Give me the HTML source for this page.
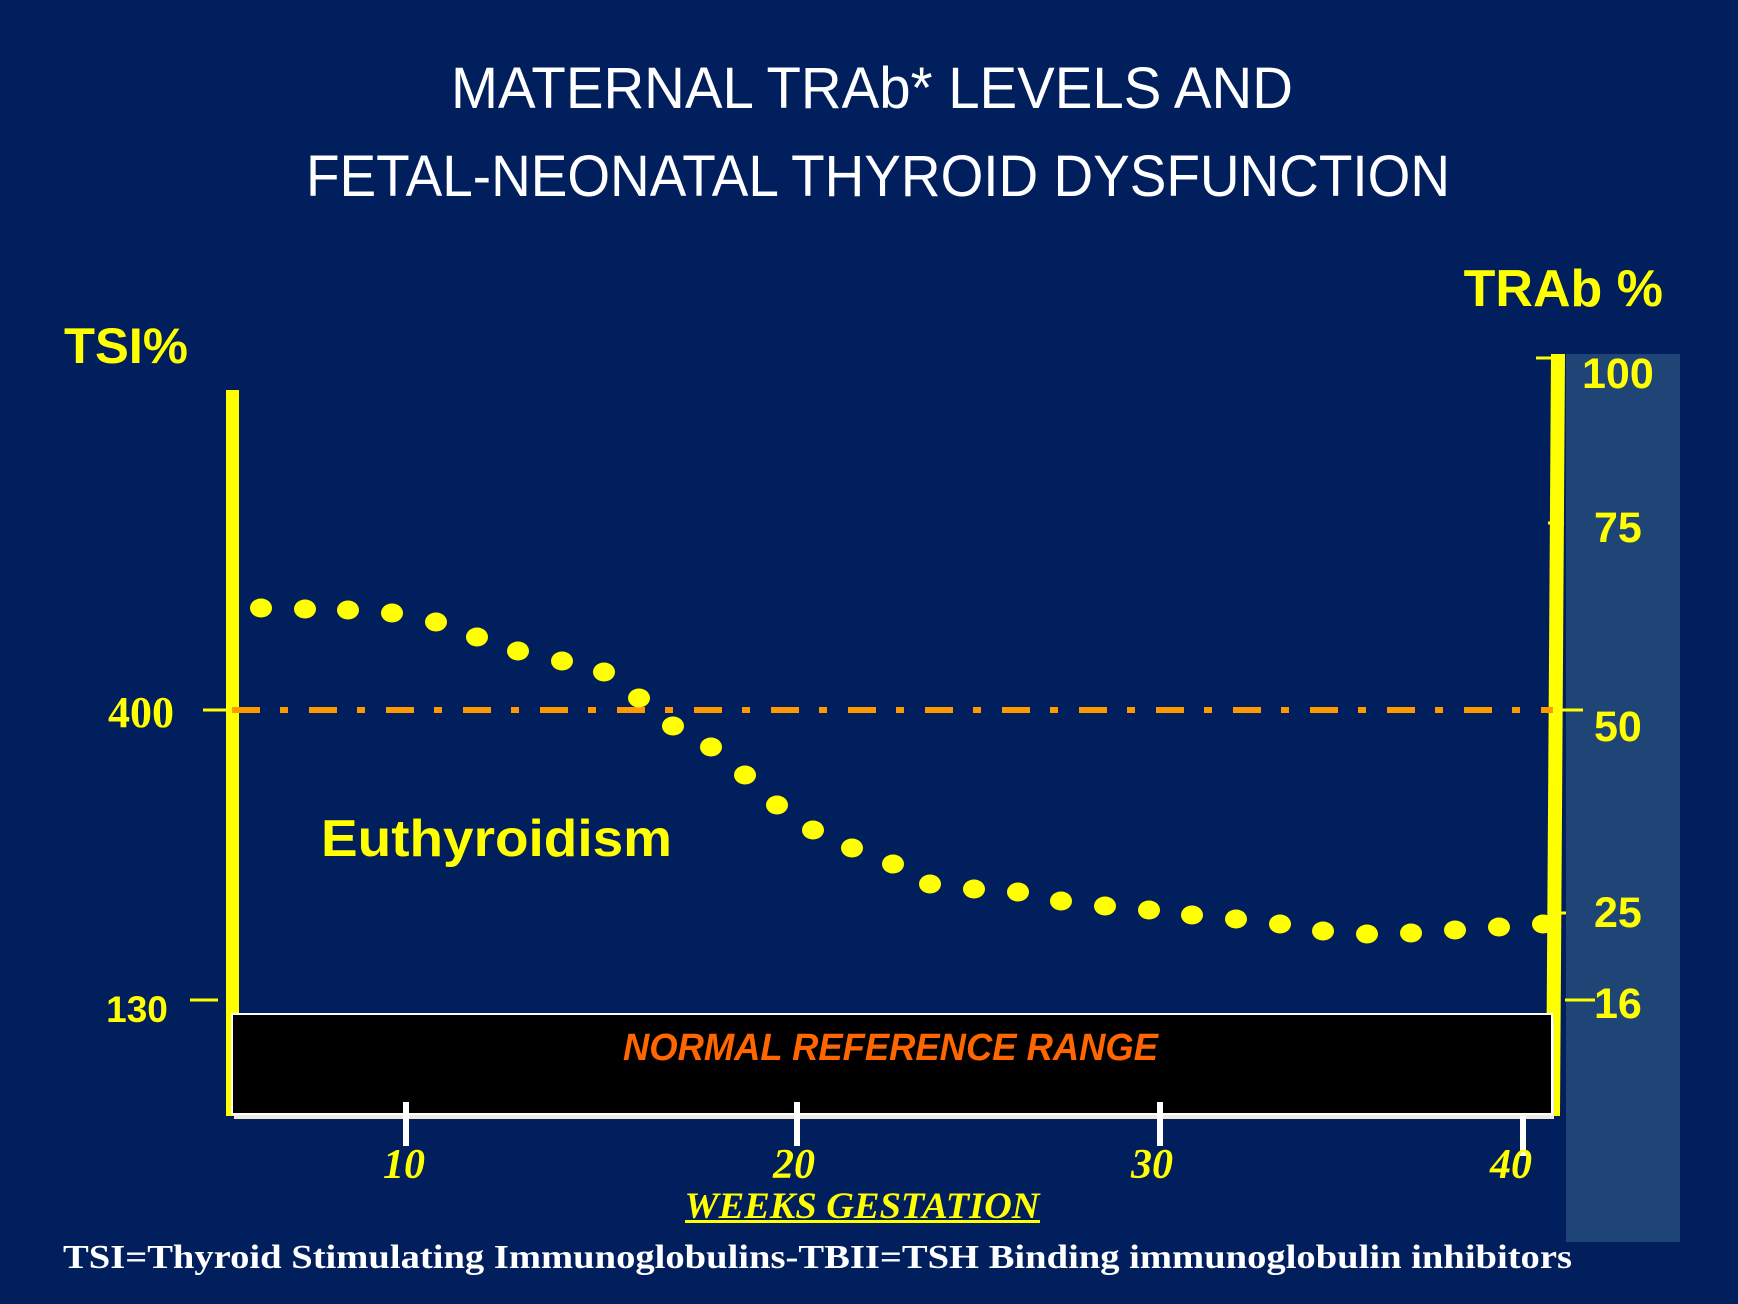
<!DOCTYPE html>
<html><head><meta charset="utf-8"><style>
html,body{margin:0;padding:0;background:#011f5c;}
svg{display:block}
</style></head><body>
<svg width="1738" height="1304" viewBox="0 0 1738 1304" xmlns="http://www.w3.org/2000/svg">
<rect width="1738" height="1304" fill="#011f5c"/>
<text x="451" y="108" font-family="Liberation Sans, sans-serif" font-size="58" fill="#fff" textLength="842" lengthAdjust="spacingAndGlyphs">MATERNAL TRAb* LEVELS AND</text>
<text x="306" y="196" font-family="Liberation Sans, sans-serif" font-size="58" fill="#fff" textLength="1144" lengthAdjust="spacingAndGlyphs">FETAL-NEONATAL THYROID DYSFUNCTION</text>
<rect x="1566" y="354" width="114" height="888" fill="#1f4577"/>
<text x="64" y="363" font-family="Liberation Sans, sans-serif" font-weight="bold" font-size="50" fill="#ffff00" textLength="124" lengthAdjust="spacingAndGlyphs">TSI%</text>
<text x="1663" y="306" font-family="Liberation Sans, sans-serif" font-weight="bold" font-size="52" fill="#ffff00" text-anchor="end">TRAb %</text>
<rect x="226" y="390" width="13" height="726" fill="#ffff00"/>
<polygon points="1551,354 1565,354 1560,1116 1546,1116" fill="#ffff00"/>
<line x1="1536" y1="358" x2="1560" y2="358" stroke="#ffff00" stroke-width="3"/>
<line x1="1548" y1="523" x2="1564" y2="523" stroke="#ffff00" stroke-width="3"/>
<line x1="1548" y1="913" x2="1566" y2="913" stroke="#ffff00" stroke-width="3"/>
<line x1="1553" y1="710" x2="1583" y2="710" stroke="#ffff00" stroke-width="3"/>
<line x1="1565" y1="1000" x2="1595" y2="1000" stroke="#ffff00" stroke-width="3"/>
<line x1="203" y1="710" x2="232" y2="710" stroke="#ffff00" stroke-width="3"/>
<line x1="190" y1="1000" x2="218" y2="1000" stroke="#ffff00" stroke-width="3"/>
<line x1="232" y1="710" x2="1553" y2="710" stroke="#ff9900" stroke-width="6" stroke-dasharray="28,20,8,21"/>
<text x="141" y="727" font-family="Liberation Serif, serif" font-weight="bold" font-size="44" fill="#ffff00" text-anchor="middle">400</text>
<text x="137" y="1022" font-family="Liberation Sans, sans-serif" font-weight="bold" font-size="37" fill="#ffff00" text-anchor="middle">130</text>
<g font-family="Liberation Sans, sans-serif" font-weight="bold" font-size="43" fill="#ffff00">
<text x="1582" y="388">100</text>
<text x="1594" y="542">75</text>
<text x="1594" y="741">50</text>
<text x="1594" y="927">25</text>
<text x="1594" y="1018">16</text>
</g>
<text x="321" y="856" font-family="Liberation Sans, sans-serif" font-weight="bold" font-size="52" fill="#ffff00" textLength="351" lengthAdjust="spacingAndGlyphs">Euthyroidism</text>
<rect x="234" y="1019" width="1320" height="100" fill="#ede9dc"/>
<rect x="232" y="1014" width="1320" height="100" fill="#000" stroke="#fff" stroke-width="2"/>
<text x="623" y="1060" font-family="Liberation Sans, sans-serif" font-weight="bold" font-style="italic" font-size="38" fill="#ff6600" textLength="535" lengthAdjust="spacingAndGlyphs">NORMAL REFERENCE RANGE</text>
<g stroke="#fff" stroke-width="6">
<line x1="406" y1="1102" x2="406" y2="1146"/>
<line x1="797" y1="1102" x2="797" y2="1146"/>
<line x1="1160" y1="1102" x2="1160" y2="1146"/>
<line x1="1523" y1="1116" x2="1523" y2="1156"/>
</g>
<g font-family="Liberation Serif, serif" font-weight="bold" font-style="italic" font-size="42" fill="#ffff00" text-anchor="middle">
<text x="404" y="1178">10</text>
<text x="794" y="1178">20</text>
<text x="1152" y="1178">30</text>
<text x="1511" y="1178">40</text>
</g>
<text x="862" y="1218" font-family="Liberation Serif, serif" font-weight="bold" font-style="italic" font-size="37" fill="#ffff00" text-anchor="middle" textLength="355" lengthAdjust="spacingAndGlyphs">WEEKS GESTATION</text>
<rect x="685" y="1220" width="355" height="3" fill="#ffff00"/>
<text x="63" y="1268" font-family="Liberation Serif, serif" font-weight="bold" font-size="34" fill="#fff" textLength="1509" lengthAdjust="spacingAndGlyphs">TSI=Thyroid Stimulating Immunoglobulins-TBII=TSH Binding immunoglobulin inhibitors</text>
<g fill="#ffff00">
<ellipse cx="261" cy="608" rx="11" ry="9.5"/>
<ellipse cx="305" cy="609" rx="11" ry="9.5"/>
<ellipse cx="348" cy="610" rx="11" ry="9.5"/>
<ellipse cx="392" cy="613" rx="11" ry="9.5"/>
<ellipse cx="436" cy="622" rx="11" ry="9.5"/>
<ellipse cx="477" cy="637" rx="11" ry="9.5"/>
<ellipse cx="518" cy="651" rx="11" ry="9.5"/>
<ellipse cx="562" cy="661" rx="11" ry="9.5"/>
<ellipse cx="604" cy="672" rx="11" ry="9.5"/>
<ellipse cx="639" cy="698" rx="11" ry="9.5"/>
<ellipse cx="673" cy="726" rx="11" ry="9.5"/>
<ellipse cx="711" cy="747" rx="11" ry="9.5"/>
<ellipse cx="745" cy="775" rx="11" ry="9.5"/>
<ellipse cx="777" cy="805" rx="11" ry="9.5"/>
<ellipse cx="813" cy="830" rx="11" ry="9.5"/>
<ellipse cx="852" cy="848" rx="11" ry="9.5"/>
<ellipse cx="893" cy="864" rx="11" ry="9.5"/>
<ellipse cx="930" cy="884" rx="11" ry="9.5"/>
<ellipse cx="974" cy="889" rx="11" ry="9.5"/>
<ellipse cx="1018" cy="892" rx="11" ry="9.5"/>
<ellipse cx="1061" cy="901" rx="11" ry="9.5"/>
<ellipse cx="1105" cy="906" rx="11" ry="9.5"/>
<ellipse cx="1149" cy="910" rx="11" ry="9.5"/>
<ellipse cx="1192" cy="915" rx="11" ry="9.5"/>
<ellipse cx="1236" cy="919" rx="11" ry="9.5"/>
<ellipse cx="1280" cy="924" rx="11" ry="9.5"/>
<ellipse cx="1323" cy="931" rx="11" ry="9.5"/>
<ellipse cx="1367" cy="934" rx="11" ry="9.5"/>
<ellipse cx="1411" cy="933" rx="11" ry="9.5"/>
<ellipse cx="1455" cy="930" rx="11" ry="9.5"/>
<ellipse cx="1499" cy="927" rx="11" ry="9.5"/>
<ellipse cx="1543" cy="924" rx="11" ry="9.5"/>
</g>
</svg>
</body></html>
